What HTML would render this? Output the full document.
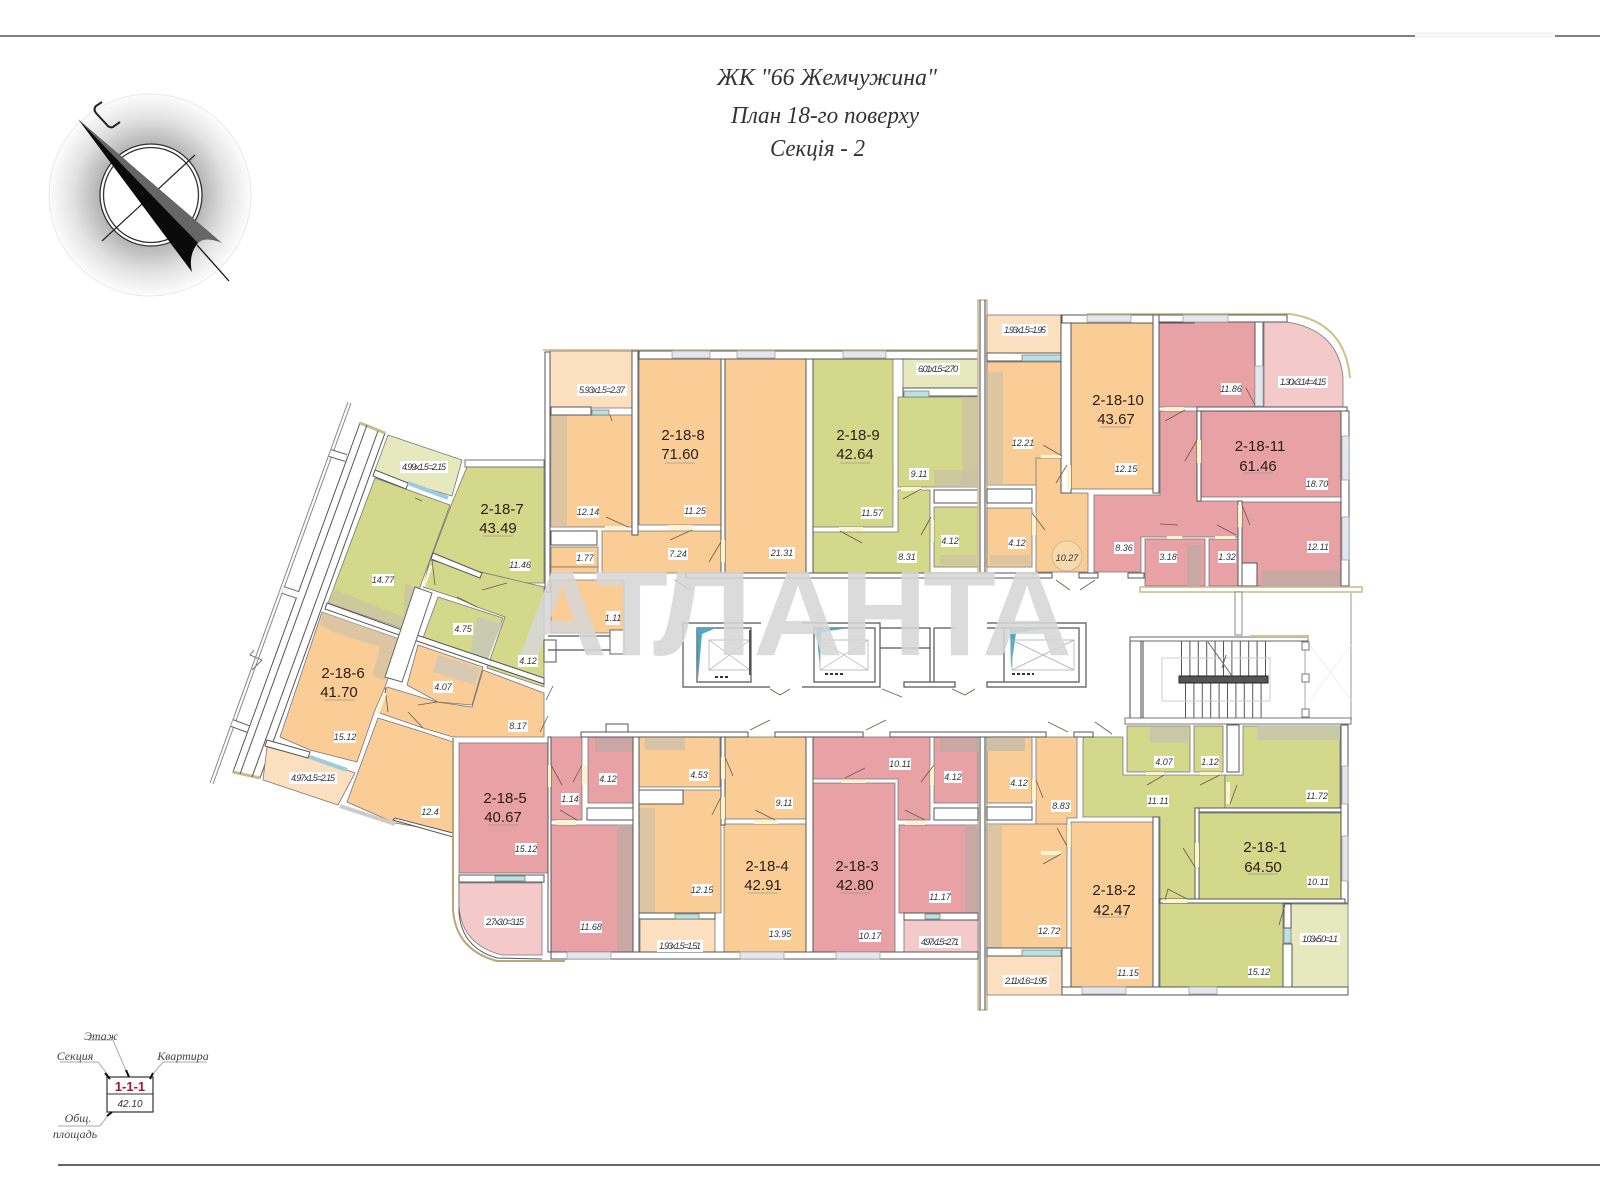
<!DOCTYPE html>
<html lang="uk"><head><meta charset="utf-8"><title>План 18-го поверху</title>
<style>
html,body{margin:0;padding:0;background:#fff;width:1600px;height:1200px;overflow:hidden}
svg{display:block;font-family:"Liberation Sans",sans-serif}
.o{fill:#fbcd96}.g{fill:#d4d88b}.r{fill:#e8a1a5}
.ob{fill:#fbdfbe}.gb{fill:#e6e9bd}.rb{fill:#f4c9c9}
.o,.g,.r,.ob,.gb,.rb{stroke:#777;stroke-width:.8}
.k{fill:#c9bfa9;opacity:.6}
.w{fill:#fff;stroke:#555;stroke-width:1}
.win{fill:#e4e6ee;stroke:#999;stroke-width:.7}
.gl{fill:#b9e2e4;stroke:#777;stroke-width:.7}
.dy{fill:#fdf3cf}
.d{fill:none;stroke:#6a5a50;stroke-width:.8}
.lb{fill:#fff}
.t{font-size:9px;text-anchor:middle;fill:#333;font-style:italic}
.n{font-size:15px;text-anchor:middle;fill:#2a1d16}
.u{stroke:#999;stroke-width:.7}
.ti{font-family:"Liberation Serif",serif;font-style:italic;font-size:24px;fill:#333}
.lg{font-family:"Liberation Serif",serif;font-style:italic;font-size:12px;fill:#444}
.ln{stroke:#555;stroke-width:1;fill:none}
.sh{fill:none;stroke:#555;stroke-width:1.2}
.wm{font-size:121px;font-weight:bold;fill:#d6d6d6;fill-opacity:.88}
</style></head><body>
<svg width="1600" height="1200" viewBox="0 0 1600 1200" xmlns="http://www.w3.org/2000/svg">
<defs>
<radialGradient id="cg" cx="50%" cy="50%" r="50%"><stop offset="0" stop-color="#999"/><stop offset=".5" stop-color="#b4b4b4"/><stop offset=".76" stop-color="#e2e2e2"/><stop offset="1" stop-color="#fdfdfd"/></radialGradient>
</defs>
<rect width="1600" height="1200" fill="#fff"/>
<line x1="0" y1="36" x2="1600" y2="36" stroke="#333" stroke-width="1.3"/>
<rect x="1415" y="32" width="140" height="6" fill="#f6f6f6"/>
<line x1="58" y1="1165" x2="1600" y2="1165" stroke="#333" stroke-width="1.5"/>

<text class="ti" x="717" y="85" textLength="220" lengthAdjust="spacingAndGlyphs">ЖК "66 Жемчужина"</text>
<text class="ti" x="731" y="123" textLength="188" lengthAdjust="spacingAndGlyphs">План 18-го поверху</text>
<text class="ti" x="770" y="156" textLength="95" lengthAdjust="spacingAndGlyphs">Секція - 2</text>

<!-- compass -->
<circle cx="150" cy="195" r="101" fill="url(#cg)" stroke="#e8e8e8"/>
<circle cx="151" cy="195" r="51" fill="#fff" stroke="#333" stroke-width="1.3"/>
<circle cx="151" cy="195" r="47.5" fill="#fff" stroke="#333" stroke-width="1.3"/>
<line x1="102" y1="241" x2="195" y2="155" stroke="#222" stroke-width="1.2"/>
<line x1="197" y1="245" x2="229" y2="281" stroke="#111" stroke-width="1.3"/>
<path d="M78 119L222 243Q205 236 198 243Z" fill="#666"/>
<path d="M78 119L198 243Q188 255 192 272Z" fill="#0a0a0a"/>
<path d="M102 102L96 106Q93 109 96 113L108 126Q110 128 113 127L120 122" fill="none" stroke="#222" stroke-width="2"/>

<!-- upper middle block -->
<rect x="543" y="350" width="435" height="229" fill="#fff"/>
<rect class="ob" x="550" y="351" width="82" height="57"/>
<rect class="o" x="551" y="415" width="81" height="112"/>
<rect class="k" x="551" y="415" width="16" height="112"/>
<rect class="o" x="639" y="359" width="82" height="166"/>
<rect class="o" x="725" y="359" width="81" height="214"/>
<path class="o" d="M602 531H721V573H602Z"/>
<rect class="o" x="551" y="547" width="47" height="20"/>
<path class="o" d="M551 580H624V633H551Z"/>
<rect class="g" x="813" y="359" width="80" height="168"/>
<path class="g" d="M813 532H898V490H930V573H813Z"/>
<path class="g" d="M898 397H978V487H898Z"/>
<rect class="k" x="962" y="397" width="16" height="90"/>
<rect class="k" x="934" y="470" width="44" height="17"/>
<rect class="gb" x="903" y="351" width="75" height="38"/>
<rect class="g" x="934" y="507" width="44" height="60"/>
<rect class="k" x="940" y="555" width="36" height="10"/>
<rect class="o" x="551" y="567" width="47" height="6"/>
<!-- upper middle walls -->
<path d="M543 350H978" stroke="#c9b98c" stroke-width="1.5"/>
<rect class="w" x="639" y="351" width="339" height="8"/>
<rect class="win" x="672" y="351" width="38" height="7"/>
<rect class="win" x="737" y="351" width="38" height="7"/>
<rect class="win" x="843" y="351" width="43" height="7"/>
<rect class="w" x="632" y="351" width="6" height="184"/>
<rect class="w" x="721" y="359" width="4" height="214"/>
<rect class="dy" x="721" y="540" width="4" height="22"/>
<rect class="w" x="806" y="359" width="7" height="214"/>
<rect class="w" x="545" y="352" width="5" height="240"/>
<rect class="w" x="551" y="407" width="40" height="8"/>
<rect class="gl" x="592" y="410" width="17" height="5"/>
<rect class="w" x="551" y="531" width="46" height="14"/>
<rect class="w" x="903" y="388" width="75" height="8"/>
<rect class="gl" x="904" y="391" width="25" height="6"/>
<rect class="w" x="934" y="490" width="44" height="13"/>
<rect class="dy" x="668" y="525" width="24" height="5"/>
<rect class="dy" x="605" y="526" width="22" height="4"/>
<rect class="dy" x="839" y="527" width="24" height="4"/>
<rect class="dy" x="901" y="487" width="20" height="4"/>
<rect class="dy" x="931" y="520" width="3" height="22"/>
<path class="d" d="M606 517L628 527M670 540L692 530M709 562L721 542M840 531L862 543M903 499L921 489M921 535L931 517M610 415L612 421"/>
<!-- gallery strip 978 -->
<rect x="978" y="300" width="9" height="277" fill="#fff" stroke="#c9b98c" stroke-width="1.5"/>
<line x1="980" y1="300" x2="980" y2="577" stroke="#444"/><line x1="985" y1="300" x2="985" y2="577" stroke="#444"/>
<rect x="978" y="733" width="9" height="277" fill="#fff" stroke="#c9b98c" stroke-width="1.5"/>
<line x1="980" y1="733" x2="980" y2="1010" stroke="#444"/><line x1="985" y1="733" x2="985" y2="1010" stroke="#444"/>

<!-- upper right block -->
<rect class="ob" x="987" y="315" width="74" height="38"/>
<rect class="o" x="987" y="362" width="80" height="123"/>
<rect class="k" x="987" y="372" width="16" height="113"/>
<path class="o" d="M1036 458H1067V493H1088V572H1036Z"/>
<rect class="o" x="1071" y="323" width="82" height="166"/>
<rect class="o" x="987" y="508" width="45" height="59"/>
<rect class="k" x="990" y="555" width="40" height="10"/>
<rect class="w" x="987" y="489" width="45" height="14"/>
<path d="M1087 314H1290Q1345 322 1350 378" fill="none" stroke="#cfc08c" stroke-width="2"/>
<rect class="r" x="1159" y="322" width="96" height="85"/>
<path class="rb" d="M1264 322H1287Q1338 330 1343 377V407H1264Z"/>
<rect class="r" x="1201" y="411" width="140" height="86"/>
<path class="r" d="M1094 495H1160V411H1197V501H1238V537H1141V572H1094Z"/>
<rect class="r" x="1145" y="539" width="60" height="47"/>
<rect x="1187" y="545" width="14" height="41" fill="#c9a7a5"/>
<rect class="r" x="1209" y="539" width="29" height="47"/>
<rect class="r" x="1242" y="502" width="99" height="84"/>
<rect x="1262" y="570" width="79" height="16" fill="#c9a7a5"/>
<rect class="w" x="1242" y="563" width="15" height="23"/>
<rect class="w" x="987" y="353" width="74" height="8"/>
<rect class="gl" x="1022" y="355" width="39" height="6"/>
<rect class="w" x="1061" y="315" width="10" height="178"/>
<rect class="w" x="1062" y="315" width="132" height="8"/>
<rect class="win" x="1087" y="315" width="44" height="7"/>
<rect class="w" x="1153" y="315" width="6" height="178"/>
<rect class="w" x="1159" y="315" width="128" height="7"/>
<rect class="win" x="1183" y="315" width="45" height="7"/>
<rect class="w" x="1255" y="322" width="8" height="85"/>
<rect class="win" x="1255" y="366" width="8" height="40"/>
<rect class="w" x="1197" y="407" width="150" height="4"/>
<rect class="w" x="1341" y="411" width="8" height="175"/>
<rect class="win" x="1342" y="436" width="7" height="44"/>
<rect class="win" x="1342" y="517" width="7" height="43"/>
<rect class="w" x="1197" y="411" width="4" height="90"/>
<rect class="dy" x="1197" y="440" width="4" height="23"/>
<rect class="w" x="1238" y="501" width="4" height="85"/>
<rect class="dy" x="1238" y="505" width="4" height="22"/>
<rect class="dy" x="1164" y="407" width="20" height="4"/>
<rect class="dy" x="1167" y="536" width="15" height="3"/>
<rect class="dy" x="1215" y="536" width="20" height="3"/>
<rect class="dy" x="1041" y="455" width="20" height="3"/>
<rect class="dy" x="1067" y="465" width="4" height="24"/>
<rect class="dy" x="1032" y="513" width="4" height="22"/>
<path class="d" d="M1165 421L1185 410M1185 461L1197 440M1250 525L1242 505M1178 525L1160 524M1236 535L1217 525M1255 405L1246 388M1043 445L1062 456M1056 483L1067 465M1045 530L1032 513"/>
<rect x="1140" y="587" width="222" height="5" fill="#fff" stroke="#c9b98c" stroke-width="1.5"/>
<circle cx="1067" cy="556" r="15" fill="#f7d9ac" stroke="#d5b98f"/>
<line x1="1351" y1="593" x2="1351" y2="720" stroke="#ccc" stroke-width="2"/>

<!-- left rotated block -->
<path d="M348 402L210 783M351 403L213 784" stroke="#888" stroke-width="1" fill="none"/>
<path d="M254 650L250 655L262 660L252 670" fill="none" stroke="#777"/>
<path d="M360 423L233 772L260 778L385 433Z" fill="#fff" stroke="#555"/>
<path d="M360 423L385 433M233 772L260 778" stroke="#c9b98c" stroke-width="3"/>
<path d="M367 425L240 774M378 431L252 777" stroke="#555" stroke-width="1" fill="none"/>
<path d="M330 453L346 458M283 590L298 595M232 723L248 729" stroke="#666" stroke-width="8"/>
<path d="M330 453L346 458M283 590L298 595M232 723L248 729" stroke="#fff" stroke-width="6"/>
<path class="gb" d="M388 435L462 460L452 496L408 483L375 470Z"/>
<path class="g" d="M467 467H544V583H507L482 573L433 553L452 503Z"/>
<path class="g" d="M430 560L544 587V687L487 668L505 617L477 607L457 598L423 587Z"/>
<path class="g" d="M375 478L450 505L420 587L407 630L328 603Z"/>
<path class="k" d="M333 589L403 617L405 583L420 590L407 630L328 603Z"/>
<path class="g" d="M438 597L503 618L487 660L423 638Z"/>
<path d="M477 617L502 624L487 660L470 655Z" fill="#c9cbb0"/>
<path class="o" d="M418 645L483 667L472 705L438 702L407 685Z"/>
<path d="M438 655L480 668L475 685L433 672Z" fill="#d8cab2"/>
<path class="o" d="M322 612L402 640L385 687L375 710L357 762L310 750L280 737Z"/>
<path class="k" d="M322 612L400 638L385 680L372 676L380 647L333 632L320 625Z"/>
<path class="o" d="M387 687L437 702L472 707L483 670L544 693V737H453L423 728L377 712Z"/>
<path class="o" d="M378 718L423 732L453 742V833L395 823L347 802Z"/>
<path class="ob" d="M267 747L310 757L355 773L338 805L263 780Z"/>
<path d="M327 603L402 630L544 678V684L402 636L325 609Z" fill="#fff" stroke="#555"/>
<path d="M415 587L432 593L402 682L385 677Z" fill="#fff" stroke="#666"/>
<path d="M375 470L408 483L406 489L373 476ZM433 553L482 573L480 578L431 559Z" fill="#fff" stroke="#555"/>
<path d="M408 483L448 498M310 757L347 770" stroke="#9cd" stroke-width="4"/>
<path d="M465 460H544V467H465Z" fill="#fff" stroke="#777"/>
<path d="M267 740L310 752L308 758L265 746Z" fill="#fff" stroke="#555"/>
<path d="M393 820L453 837V833L395 818Z" fill="#fff" stroke="#555"/>
<path d="M340 806L395 824" stroke="#ccc" stroke-width="4"/>
<path class="d" d="M415 498L422 501M432 560L435 585M482 590L507 583M457 597L477 607M385 687L388 712M418 705L437 702M408 712L423 728"/>
<rect class="dy" x="426" y="565" width="3" height="22" transform="rotate(20 427 576)"/>
<rect class="dy" x="380" y="692" width="3" height="22" transform="rotate(20 381 703)"/>

<!-- lower middle block -->
<rect class="r" x="459" y="743" width="89" height="130"/>
<path d="M459 883V913Q462 948 497 958L542 959" fill="none" stroke="#555" stroke-width="1"/>
<path class="rb" d="M459 883H542V955H502Q462 945 459 907Z"/>
<path d="M453 738V910Q456 950 497 961H565" fill="none" stroke="#bba67a" stroke-width="2"/>
<rect class="r" x="551" y="737" width="31" height="83"/>
<rect class="r" x="588" y="737" width="45" height="66"/>
<rect x="595" y="737" width="38" height="15" fill="#c9a7a5"/>
<rect class="w" x="587" y="808" width="46" height="12"/>
<rect class="r" x="551" y="825" width="82" height="127"/>
<rect x="617" y="825" width="16" height="127" fill="#c9a7a5"/>
<rect class="o" x="639" y="737" width="81" height="50"/>
<rect x="645" y="738" width="40" height="12" fill="#d6c4a8"/>
<path class="o" d="M639 790H721V913H639Z"/>
<rect class="k" x="639" y="808" width="16" height="105"/>
<rect class="w" x="639" y="790" width="44" height="14"/>
<rect class="ob" x="640" y="919" width="75" height="40"/>
<rect class="w" x="639" y="913" width="76" height="6"/>
<rect class="gl" x="675" y="914" width="24" height="5"/>
<rect class="o" x="725" y="737" width="81" height="82"/>
<rect class="o" x="724" y="824" width="82" height="128"/>
<rect class="r" x="813" y="783" width="82" height="169"/>
<path class="r" d="M813 737H930V820H898V779H813Z"/>
<rect class="r" x="934" y="737" width="44" height="66"/>
<rect x="940" y="738" width="38" height="14" fill="#c9a7a5"/>
<rect class="w" x="934" y="808" width="44" height="12"/>
<rect class="r" x="899" y="825" width="79" height="88"/>
<rect x="965" y="825" width="13" height="88" fill="#c9a7a5"/>
<rect class="rb" x="904" y="920" width="74" height="39"/>
<rect class="w" x="904" y="913" width="74" height="7"/>
<rect class="gl" x="925" y="914" width="15" height="5"/>
<rect class="w" x="459" y="875" width="85" height="7"/>
<rect class="gl" x="495" y="876" width="30" height="5"/>
<rect class="w" x="548" y="737" width="3" height="215"/>
<rect class="w" x="633" y="733" width="6" height="226"/>
<rect class="w" x="721" y="737" width="4" height="88"/>
<rect class="w" x="806" y="733" width="7" height="226"/>
<rect class="w" x="551" y="952" width="427" height="7"/>
<rect class="win" x="567" y="952" width="44" height="7"/>
<rect class="win" x="740" y="952" width="44" height="7"/>
<rect class="win" x="836" y="952" width="44" height="7"/>
<rect class="dy" x="548" y="765" width="3" height="22"/>
<rect class="dy" x="582" y="765" width="5" height="20"/>
<rect class="dy" x="556" y="820" width="20" height="5"/>
<rect class="dy" x="721" y="757" width="4" height="22"/>
<rect class="dy" x="721" y="797" width="4" height="22"/>
<rect class="dy" x="754" y="820" width="24" height="4"/>
<rect class="dy" x="842" y="780" width="24" height="3"/>
<rect class="dy" x="905" y="821" width="20" height="4"/>
<rect class="dy" x="930" y="765" width="4" height="20"/>
<path class="d" d="M551 765L562 785M582 765L573 782M560 810L577 820M725 757L733 776M721 797L712 815M755 810L775 820M845 778L865 768M905 810L925 820M934 765L921 782"/>

<!-- lower right block -->
<rect class="o" x="987" y="737" width="45" height="66"/>
<rect x="987" y="738" width="38" height="13" fill="#cfc0a8"/>
<path class="o" d="M1036 737H1077V818H1067V852H1036Z"/>
<rect class="w" x="987" y="807" width="45" height="13"/>
<rect class="o" x="987" y="824" width="80" height="124"/>
<rect class="k" x="987" y="824" width="15" height="124"/>
<rect class="ob" x="987" y="956" width="75" height="39"/>
<rect class="w" x="987" y="948" width="75" height="8"/>
<rect class="gl" x="1022" y="950" width="39" height="6"/>
<rect class="o" x="1071" y="822" width="82" height="165"/>
<path class="g" d="M1083 737H1123V775H1225V808H1195V900H1160V817H1083Z"/>
<rect class="g" x="1127" y="726" width="63" height="46"/>
<rect x="1150" y="727" width="38" height="16" fill="#c8c9a8"/>
<rect class="g" x="1194" y="726" width="29" height="46"/>
<rect class="w" x="1227" y="725" width="12" height="47"/>
<path class="g" d="M1243 726H1340V808H1225V775H1243Z"/>
<rect x="1257" y="726" width="83" height="14" fill="#c8c9a8"/>
<rect class="g" x="1199" y="813" width="142" height="86"/>
<rect class="g" x="1160" y="903" width="123" height="84"/>
<rect class="gb" x="1290" y="904" width="58" height="84"/>
<rect class="w" x="1283" y="944" width="9" height="44"/>
<rect class="gl" x="1284" y="928" width="7" height="15"/>
<rect class="w" x="1284" y="904" width="7" height="24"/>
<rect class="w" x="1062" y="948" width="9" height="47"/>
<rect class="w" x="1062" y="987" width="286" height="8"/>
<rect class="win" x="1082" y="987" width="44" height="7"/>
<rect class="win" x="1189" y="987" width="28" height="7"/>
<rect class="w" x="1153" y="817" width="6" height="170"/>
<rect class="w" x="1195" y="808" width="4" height="92"/>
<rect class="w" x="1199" y="808" width="145" height="4"/>
<rect class="w" x="1341" y="725" width="7" height="178"/>
<rect class="win" x="1342" y="766" width="6" height="38"/>
<rect class="win" x="1342" y="836" width="6" height="45"/>
<rect class="w" x="1160" y="899" width="185" height="4"/>
<rect class="dy" x="1163" y="899" width="24" height="4"/>
<rect class="dy" x="1195" y="843" width="4" height="24"/>
<rect class="dy" x="1226" y="782" width="4" height="22"/>
<rect class="dy" x="1146" y="772" width="18" height="3"/>
<rect class="dy" x="1200" y="772" width="20" height="3"/>
<rect class="dy" x="1032" y="780" width="4" height="20"/>
<rect class="dy" x="1041" y="851" width="20" height="4"/>
<rect class="dy" x="1067" y="825" width="4" height="22"/>
<path class="d" d="M1165 900L1168 889L1187 899M1183 848L1195 867M1230 804L1237 785M1147 785L1164 775M1200 785L1220 775M1043 864L1061 854M1057 828L1067 846M1036 780L1043 798M1279 925L1285 905"/>
<rect x="1125" y="718" width="226" height="6" fill="#fff" stroke="#777"/>

<!-- corridor walls -->
<rect class="w" x="686" y="573" width="366" height="5"/>
<rect class="w" x="1079" y="573" width="19" height="5"/>
<rect class="w" x="1128" y="573" width="16" height="5"/>
<rect class="w" x="581" y="732" width="167" height="5"/>
<rect class="w" x="775" y="732" width="88" height="5"/>
<rect class="w" x="890" y="732" width="156" height="5"/>
<rect class="w" x="1074" y="732" width="19" height="5"/>
<rect class="w" x="606" y="724" width="22" height="8"/>
<path class="d" d="M750 730L770 720M866 730L886 720M1048 722L1068 732M1095 722L1112 734M1056 580L1070 590M1080 590L1095 580M675 580L690 590M540 732L548 716M546 700L553 686"/>
<rect class="w" x="544" y="640" width="12" height="22"/>

<!-- lift shafts -->
<g>
<path class="sh" d="M683 623H761M683 623V687H770M697 628H751V682H697Z"/>
<path d="M697 628H716L702 634L698 680Z" fill="#4fa8bf"/>
<path d="M709 640H750V670H709Z M709 640L750 670M750 640L709 670" fill="none" stroke="#aaa" stroke-width=".7"/>
<rect x="749" y="630" width="2" height="45" fill="#555"/>
<path class="sh" d="M802 623H880V687H802M814 628H875V682H814Z"/>
<path d="M816 628H850L821 632L820 668Z" fill="#4fa8bf"/>
<path d="M820 640H868V670H820Z M820 640L868 670M868 640L820 670" fill="none" stroke="#aaa" stroke-width=".7"/>
<path class="sh" d="M880 628H930V648H880M930 628V682M934 628V682M904 687H955V682H904ZM934 628H955"/>
<path class="sh" d="M987 623H1086V687H987V682H1004V628H987M1004 628H1079V682H1004"/>
<path d="M1010 628H1046L1016 633L1011 668Z" fill="#4fa8bf"/>
<path d="M1012 640H1074V670H1012Z M1012 640L1074 670M1074 640L1012 670" fill="none" stroke="#aaa" stroke-width=".7"/>
<path class="d" d="M770 689L780 695L790 689M952 689L965 695L975 689M882 689L902 697"/>
<path d="M715 677h15M825 674h20M1012 674h22" stroke="#333" stroke-width="2" stroke-dasharray="3 2"/>
<rect x="610" y="630" width="14" height="24" fill="#fff" stroke="#666"/>
<path class="sh" d="M548 636H610M548 650H610"/>
</g>

<!-- stairs -->
<rect x="1235" y="592" width="7" height="43" fill="#fff" stroke="#888"/>
<rect x="1130" y="637" width="178" height="4" fill="#fff" stroke="#666"/>
<path d="M1250 636H1308V640" stroke="#d3c48e" stroke-width="2" fill="none"/>
<path d="M1130 641V718M1141 641V718M1143 641V718" stroke="#444" stroke-width="1" fill="none"/>
<line x1="1181" y1="658.5" x2="1266" y2="658.5" stroke="#555" stroke-width="35" stroke-dasharray="1 7.4"/>
<line x1="1185" y1="700.5" x2="1262" y2="700.5" stroke="#555" stroke-width="35" stroke-dasharray="1 7.4"/>
<rect x="1179" y="676" width="89" height="7" fill="#555" stroke="#222"/>
<rect x="1162" y="658" width="108" height="43" fill="none" stroke="#ccc"/>
<path d="M1208 642L1232 676M1226 655L1222 668" stroke="#666" fill="none"/>
<path d="M1305 641V718" stroke="#aaa"/>
<rect x="1302" y="642" width="7" height="8" fill="#fff" stroke="#777"/><rect x="1302" y="674" width="7" height="8" fill="#fff" stroke="#777"/><rect x="1302" y="709" width="7" height="8" fill="#fff" stroke="#777"/>
<path d="M1310 645L1351 700M1351 645L1310 700" stroke="#eee"/>

<!-- watermark -->
<text class="wm" x="517" y="655" textLength="90" lengthAdjust="spacingAndGlyphs">А</text>
<text class="wm" x="595" y="655" textLength="73" lengthAdjust="spacingAndGlyphs">Т</text>
<text class="wm" x="653" y="655" textLength="100" lengthAdjust="spacingAndGlyphs">Л</text>
<text class="wm" x="753" y="655" textLength="90" lengthAdjust="spacingAndGlyphs">А</text>
<text class="wm" x="840" y="655" textLength="87" lengthAdjust="spacingAndGlyphs">Н</text>
<text class="wm" x="923" y="655" textLength="73" lengthAdjust="spacingAndGlyphs">Т</text>
<text class="wm" x="982" y="655" textLength="90" lengthAdjust="spacingAndGlyphs">А</text>

<!-- apartment names -->
<g class="names">
<text class="n" x="683" y="440">2-18-8</text><text class="n" x="680" y="459">71.60</text><line class="u" x1="665" y1="463" x2="695" y2="463"/>
<text class="n" x="858" y="440">2-18-9</text><text class="n" x="855" y="459">42.64</text><line class="u" x1="840" y1="463" x2="870" y2="463"/>
<text class="n" x="1118" y="405">2-18-10</text><text class="n" x="1116" y="424">43.67</text><line class="u" x1="1100" y1="427" x2="1130" y2="427"/>
<text class="n" x="1260" y="451">2-18-11</text><text class="n" x="1258" y="471">61.46</text><line class="u" x1="1243" y1="473" x2="1273" y2="473"/>
<text class="n" x="502" y="514">2-18-7</text><text class="n" x="498" y="533">43.49</text><line class="u" x1="483" y1="536" x2="513" y2="536"/>
<text class="n" x="343" y="678">2-18-6</text><text class="n" x="339" y="697">41.70</text><line class="u" x1="325" y1="700" x2="355" y2="700"/>
<text class="n" x="505" y="803">2-18-5</text><text class="n" x="503" y="822">40.67</text><line class="u" x1="488" y1="825" x2="518" y2="825"/>
<text class="n" x="767" y="871">2-18-4</text><text class="n" x="763" y="890">42.91</text><line class="u" x1="748" y1="893" x2="778" y2="893"/>
<text class="n" x="857" y="871">2-18-3</text><text class="n" x="855" y="890">42.80</text><line class="u" x1="840" y1="893" x2="870" y2="893"/>
<text class="n" x="1114" y="895">2-18-2</text><text class="n" x="1112" y="915">42.47</text><line class="u" x1="1097" y1="917" x2="1127" y2="917"/>
<text class="n" x="1265" y="852">2-18-1</text><text class="n" x="1263" y="872">64.50</text><line class="u" x1="1248" y1="874" x2="1278" y2="874"/>
</g>

<!-- room labels -->
<g>
<rect class="lb" x="577" y="384" width="50" height="12"/><text class="t" x="602" y="393" textLength="46">5.93x1.5=2.37</text>
<rect class="lb" x="916" y="363" width="44" height="12"/><text class="t" x="938" y="372" textLength="40">6.01x1.5=2.70</text>
<rect class="lb" x="577" y="506" width="22" height="12"/><text class="t" x="588" y="515">12.14</text>
<rect class="lb" x="684" y="505" width="22" height="12"/><text class="t" x="695" y="514">11.25</text>
<rect class="lb" x="668" y="548" width="20" height="12"/><text class="t" x="678" y="557">7.24</text>
<rect class="lb" x="769" y="547" width="26" height="12"/><text class="t" x="782" y="556">21.31</text>
<rect class="lb" x="861" y="507" width="22" height="12"/><text class="t" x="872" y="516">11.57</text>
<rect class="lb" x="909" y="468" width="20" height="12"/><text class="t" x="919" y="477">9.11</text>
<rect class="lb" x="897" y="551" width="20" height="12"/><text class="t" x="907" y="560">8.31</text>
<rect class="lb" x="941" y="535" width="18" height="12"/><text class="t" x="950" y="544">4.12</text>
<rect class="lb" x="576" y="552" width="18" height="12"/><text class="t" x="585" y="561">1.77</text>
<rect class="lb" x="606" y="611" width="14" height="14"/><text class="t" x="613" y="621" font-size="8">1.11</text>

<rect class="lb" x="1002" y="324" width="46" height="12"/><text class="t" x="1025" y="333" textLength="42">1.93x1.5=1.95</text>
<rect class="lb" x="1221" y="383" width="20" height="12"/><text class="t" x="1231" y="392">11.86</text>
<rect class="lb" x="1278" y="376" width="50" height="12"/><text class="t" x="1303" y="385" textLength="46">1.30x3.14=4.15</text>
<rect class="lb" x="1013" y="437" width="20" height="12"/><text class="t" x="1023" y="446">12.21</text>
<rect class="lb" x="1115" y="463" width="22" height="12"/><text class="t" x="1126" y="472">12.15</text>
<rect class="lb" x="1306" y="478" width="22" height="12"/><text class="t" x="1317" y="487">18.70</text>
<rect class="lb" x="1307" y="541" width="22" height="12"/><text class="t" x="1318" y="550">12.11</text>
<rect class="lb" x="1114" y="542" width="20" height="12"/><text class="t" x="1124" y="551">8.36</text>
<rect class="lb" x="1159" y="551" width="18" height="12"/><text class="t" x="1168" y="560">3.18</text>
<rect class="lb" x="1218" y="551" width="18" height="12"/><text class="t" x="1227" y="560">1.32</text>
<rect class="lb" x="1008" y="537" width="18" height="12"/><text class="t" x="1017" y="546">4.12</text>
<text class="t" x="1067" y="561">10.27</text>

<rect class="lb" x="400" y="461" width="48" height="12"/><text class="t" x="424" y="470" textLength="44">4.99x1.5=2.15</text>
<rect class="lb" x="510" y="559" width="20" height="12"/><text class="t" x="520" y="568">11.46</text>
<rect class="lb" x="372" y="574" width="22" height="12"/><text class="t" x="383" y="583">14.77</text>
<rect class="lb" x="453" y="623" width="20" height="12"/><text class="t" x="463" y="632">4.75</text>
<rect class="lb" x="518" y="655" width="20" height="12"/><text class="t" x="528" y="664">4.12</text>
<rect class="lb" x="433" y="681" width="20" height="12"/><text class="t" x="443" y="690">4.07</text>
<rect class="lb" x="508" y="720" width="20" height="12"/><text class="t" x="518" y="729">8.17</text>
<rect class="lb" x="334" y="731" width="22" height="12"/><text class="t" x="345" y="740">15.12</text>
<rect class="lb" x="289" y="772" width="48" height="12"/><text class="t" x="313" y="781" textLength="44">4.97x1.5=2.15</text>
<rect class="lb" x="421" y="806" width="19" height="12"/><text class="t" x="430" y="815">12.4</text>

<rect class="lb" x="515" y="843" width="22" height="12"/><text class="t" x="526" y="852">15.12</text>
<rect class="lb" x="561" y="793" width="18" height="12"/><text class="t" x="570" y="802">1.14</text>
<rect class="lb" x="599" y="773" width="18" height="12"/><text class="t" x="608" y="782">4.12</text>
<rect class="lb" x="484" y="916" width="42" height="12"/><text class="t" x="505" y="925" textLength="38">2.7x3.0=3.15</text>
<rect class="lb" x="580" y="921" width="22" height="12"/><text class="t" x="591" y="930">11.68</text>
<rect class="lb" x="689" y="769" width="20" height="12"/><text class="t" x="699" y="778">4.53</text>
<rect class="lb" x="775" y="797" width="18" height="12"/><text class="t" x="784" y="806">9.11</text>
<rect class="lb" x="692" y="884" width="20" height="12"/><text class="t" x="702" y="893">12.15</text>
<rect class="lb" x="657" y="940" width="46" height="12"/><text class="t" x="680" y="949" textLength="42">1.93x1.5=1.51</text>
<rect class="lb" x="769" y="928" width="22" height="12"/><text class="t" x="780" y="937">13.95</text>
<rect class="lb" x="859" y="930" width="22" height="12"/><text class="t" x="870" y="939">10.17</text>
<rect class="lb" x="929" y="891" width="22" height="12"/><text class="t" x="940" y="900">11.17</text>
<rect class="lb" x="889" y="758" width="22" height="12"/><text class="t" x="900" y="767">10.11</text>
<rect class="lb" x="944" y="771" width="18" height="12"/><text class="t" x="953" y="780">4.12</text>
<rect class="lb" x="919" y="936" width="42" height="12"/><text class="t" x="940" y="945" textLength="38">4.97x1.5=2.71</text>

<rect class="lb" x="1010" y="777" width="18" height="12"/><text class="t" x="1019" y="786">4.12</text>
<rect class="lb" x="1051" y="800" width="20" height="12"/><text class="t" x="1061" y="809">8.83</text>
<rect class="lb" x="1038" y="925" width="22" height="12"/><text class="t" x="1049" y="934">12.72</text>
<rect class="lb" x="1003" y="975" width="46" height="12"/><text class="t" x="1026" y="984" textLength="42">2.11x1.6=1.95</text>
<rect class="lb" x="1117" y="967" width="22" height="12"/><text class="t" x="1128" y="976">11.15</text>
<rect class="lb" x="1147" y="795" width="22" height="12"/><text class="t" x="1158" y="804">11.11</text>
<rect class="lb" x="1154" y="756" width="20" height="12"/><text class="t" x="1164" y="765">4.07</text>
<rect class="lb" x="1201" y="756" width="18" height="12"/><text class="t" x="1210" y="765">1.12</text>
<rect class="lb" x="1306" y="790" width="22" height="12"/><text class="t" x="1317" y="799">11.72</text>
<rect class="lb" x="1307" y="876" width="22" height="12"/><text class="t" x="1318" y="885">10.11</text>
<rect class="lb" x="1248" y="966" width="22" height="12"/><text class="t" x="1259" y="975">15.12</text>
<rect class="lb" x="1300" y="933" width="40" height="12"/><text class="t" x="1320" y="942" textLength="36">1.03x5.0=1.1</text>
</g>

<!-- legend -->
<rect x="107" y="1077" width="46" height="35" fill="#fff" stroke="#333" stroke-width="1.2"/>
<line x1="107" y1="1094" x2="153" y2="1094" stroke="#333"/>
<text x="130" y="1091" font-size="13" font-weight="bold" text-anchor="middle" fill="#b01030">1-1-1</text>
<text x="130" y="1107" font-size="10" text-anchor="middle" fill="#333" font-style="italic">42.10</text>
<path class="ln" d="M60 1062H98L108 1075M207 1062H163L152 1075M88 1040H113L127 1073M58 1126H100L110 1113" style="stroke:#aaa"/>
<path d="M105 1073L110 1079M126 1070L129 1077M153 1073L150 1079M112 1112L107 1116" stroke="#111" stroke-width="2"/>
<text class="lg" x="101" y="1040" text-anchor="middle">Этаж</text>
<text class="lg" x="75" y="1060" text-anchor="middle">Секция</text>
<text class="lg" x="183" y="1060" text-anchor="middle">Квартира</text>
<text class="lg" x="78" y="1122" text-anchor="middle">Общ.</text>
<text class="lg" x="75" y="1138" text-anchor="middle">площадь</text>
</svg>
</body></html>
